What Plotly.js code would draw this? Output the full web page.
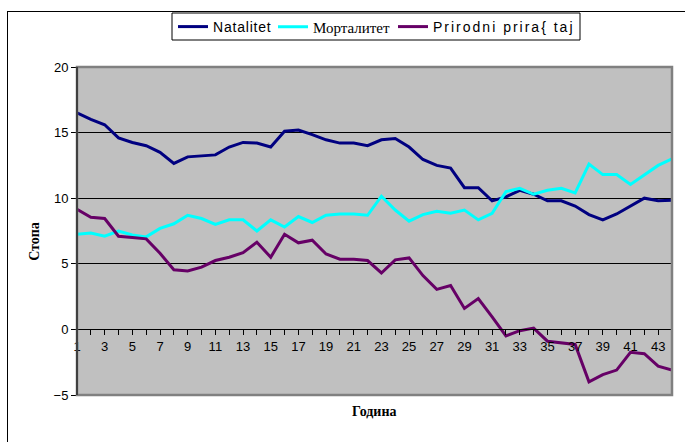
<!DOCTYPE html>
<html>
<head>
<meta charset="utf-8">
<script src="https://cdn.plot.ly/plotly-3.0.1.min.js"></script>
<style>
  html, body { margin: 0; padding: 0; background: #ffffff; overflow: hidden; }
  #frame { position: absolute; left: 7px; top: 11px; width: 720px; height: 480px; border: 1px solid #000; box-sizing: border-box; }
  #chart { position: absolute; left: 0; top: 0; width: 685px; height: 442px; }
</style>
</head>
<body>
<div id="frame"></div>
<div id="chart"></div>
<script>
// ---- data ----
const years = [1,2,3,4,5,6,7,8,9,10,11,12,13,14,15,16,17,18,19,20,21,22,23,24,25,26,27,28,29,30,31,32,33,34,35,36,37,38,39,40,41,42,43,44];
const natalitet = [16.5,16.0,15.6,14.6,14.25,14.0,13.5,12.65,13.15,13.25,13.3,13.9,14.25,14.2,13.9,15.1,15.2,14.85,14.45,14.2,14.2,14.0,14.45,14.55,13.9,12.95,12.5,12.3,10.8,10.8,9.8,10.1,10.6,10.3,9.8,9.8,9.4,8.75,8.35,8.8,9.4,10.0,9.8,9.85];
const mortalitet = [7.25,7.35,7.1,7.5,7.2,7.05,7.7,8.05,8.7,8.45,8.0,8.35,8.35,7.5,8.35,7.8,8.6,8.15,8.7,8.8,8.8,8.7,10.15,9.1,8.25,8.75,9.0,8.85,9.1,8.35,8.85,10.5,10.75,10.3,10.6,10.75,10.4,12.6,11.8,11.8,11.05,11.8,12.5,13.0];
const prirastaj = [9.15,8.55,8.45,7.1,7.0,6.9,5.8,4.55,4.45,4.75,5.25,5.5,5.85,6.65,5.5,7.25,6.6,6.8,5.75,5.35,5.35,5.25,4.3,5.3,5.45,4.1,3.05,3.35,1.6,2.35,0.95,-0.5,-0.1,0.1,-0.9,-1.0,-1.15,-4.0,-3.45,-3.1,-1.75,-1.85,-2.8,-3.1];
const seriesNames = ["Natalitet", "Морталитет", "Prirodni prira{ taj"];
const xTickVals = years;
const xTickText = years.map(v => (v % 2 === 1 ? String(v) : ""));
const yTickVals = [-5, 0, 5, 10, 15, 20];
const xTitle = "Година";
const yTitle = "Стопа";

const sans = "Liberation Sans, Arial, sans-serif";
const serif = "Liberation Serif, Times New Roman, serif";

const traces = [
  { x: years, y: natalitet, mode: "lines", line: { color: "#000080", width: 3 }, legend: "legend",
    name: "<span style=\"letter-spacing:0.8px\">" + seriesNames[0] + "</span>" },
  { x: years, y: mortalitet, mode: "lines", line: { color: "#00FFFF", width: 3 }, legend: "legend2",
    name: seriesNames[1] },
  { x: years, y: prirastaj, mode: "lines", line: { color: "#660066", width: 3 }, legend: "legend3",
    name: "<span style=\"letter-spacing:2px\">" + seriesNames[2] + "</span>" }
];

// plot area in px: left 77, right 672, top 67, bottom 395
const px2x = p => (p - 77) / 595;
const px2y = p => (395 - p) / 328;

const legCommon = {
  orientation: "h", xanchor: "left", yanchor: "middle", y: px2y(27),
  bgcolor: "rgba(0,0,0,0)", borderwidth: 0, itemwidth: 30
};

const layout = {
  width: 685, height: 442,
  margin: { l: 77, r: 13, t: 67, b: 47, pad: 0, autoexpand: false },
  paper_bgcolor: "rgba(0,0,0,0)",
  plot_bgcolor: "#C0C0C0",
  showlegend: true,
  legend: Object.assign({}, legCommon, { x: px2x(173), font: { family: sans, size: 14, color: "#000" } }),
  legend2: Object.assign({}, legCommon, { x: px2x(273), font: { family: serif, size: 15, color: "#000" } }),
  legend3: Object.assign({}, legCommon, { x: px2x(393), font: { family: sans, size: 14, color: "#000" } }),
  xaxis: {
    range: [1, 44], type: "linear",
    tickmode: "array", tickvals: xTickVals, ticktext: xTickText,
    ticks: "outside", ticklen: 5, tickcolor: "#000", tickwidth: 1,
    showline: true, linecolor: "#000", linewidth: 1,
    showgrid: false, zeroline: false,
    anchor: "free", position: 0.2,
    tickfont: { family: sans, size: 13, color: "#000" }
  },
  yaxis: {
    range: [-5, 20],
    tickmode: "array", tickvals: yTickVals,
    ticks: "outside", ticklen: 5, tickcolor: "#000", tickwidth: 1,
    showline: true, linecolor: "#000", linewidth: 1,
    showgrid: true, gridcolor: "#000", gridwidth: 1,
    zeroline: false,
    tickfont: { family: sans, size: 13, color: "#000" }
  },
  shapes: [
    { type: "rect", xref: "paper", yref: "paper", x0: 0, x1: 1, y0: 0, y1: 1,
      line: { color: "#808080", width: 2.5 }, layer: "above" },
    { type: "line", xref: "paper", yref: "paper", x0: 0, x1: 0, y0: 0, y1: 1,
      line: { color: "#000", width: 1 }, layer: "above" },
    { type: "rect", xref: "paper", yref: "paper", x0: px2x(172), x1: px2x(580), y0: px2y(40), y1: px2y(13),
      line: { color: "#000", width: 1 }, fillcolor: "#ffffff", layer: "below" }
  ],
  annotations: [
    { text: "<b>" + xTitle + "</b>", xref: "paper", yref: "paper", x: 0.5, y: -0.05,
      xanchor: "center", yanchor: "middle", showarrow: false,
      font: { family: serif, size: 14, color: "#000" } },
    { text: "<b>" + yTitle + "</b>", xref: "paper", yref: "paper", x: -0.0706, y: 0.47,
      xanchor: "center", yanchor: "middle", showarrow: false, textangle: -90,
      font: { family: serif, size: 14, color: "#000" } }
  ]
};

Plotly.newPlot("chart", traces, layout, { staticPlot: true, displayModeBar: false });
</script>
</body>
</html>
